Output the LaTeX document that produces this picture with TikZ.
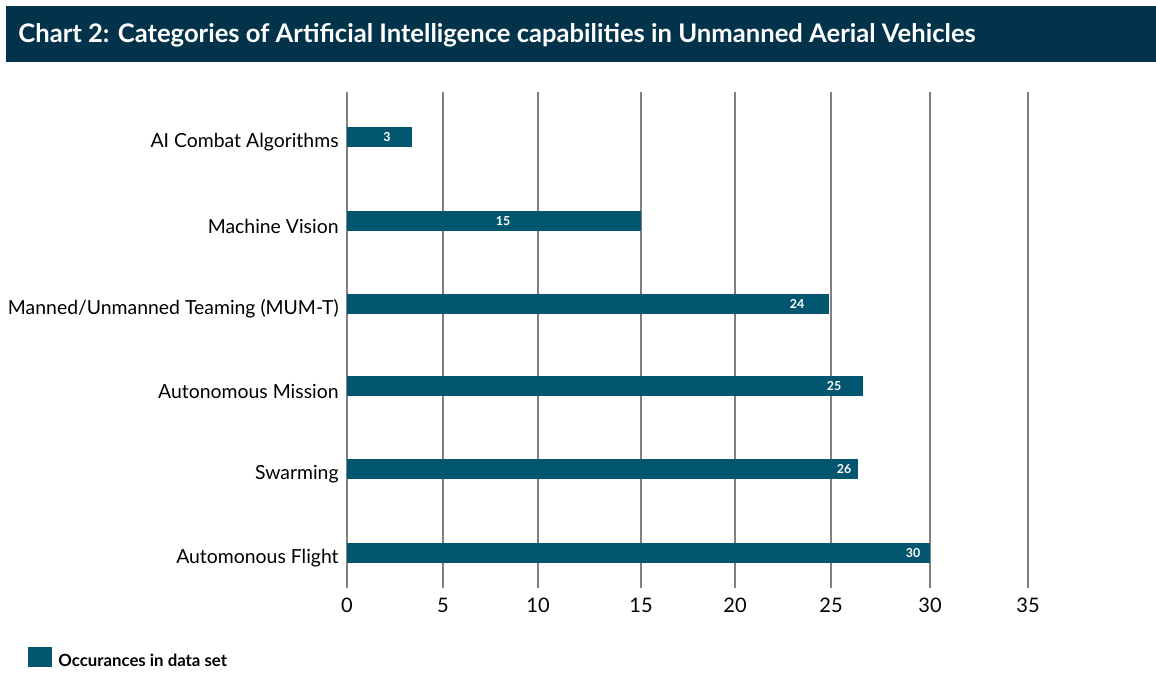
\documentclass[tikz,border=0pt]{standalone}
\usepackage{fontspec}
\setmainfont{Lato}
\usetikzlibrary{positioning}
\definecolor{headnavy}{HTML}{02334A}
\definecolor{barblue}{HTML}{03566F}

\begin{document}
\begin{tikzpicture}[
x=0.5pt,y=-0.5pt,
bar/.style={
	fill=barblue
},
gridline/.style={
	draw=black!50,
	line width=0.7pt
},
catlabel/.style={
	anchor=east,
	inner sep=0pt,
	font=\fontsize{9.7}{11}\selectfont
},
vallabel/.style={
	text=white,
	inner sep=0pt,
	font=\bfseries\fontsize{6.2}{7}\selectfont
},
ticklabel/.style={
	inner sep=0pt,
	font=\fontsize{10}{12}\selectfont
}
]
\useasboundingbox (0,0) rectangle (1156,677);

% heading
\fill[headnavy] (6,6) rectangle (1156,62);
\node[anchor=west,inner sep=0pt,text=white,font=\bfseries\fontsize{12.8}{15}\selectfont]
	(title) at (18,35) {Chart 2: Categories of Artificial Intelligence capabilities in Unmanned Aerial Vehicles};

% grid and axis
\foreach \x/\v in {347/0,443/5,538/10,641/15,735/20,831/25,930/30,1028/35}{
	\draw[gridline] (\x,92) -- (\x,588);
	\node[ticklabel] (tick\v) at (\x,605) {\v};
}

% bars
\foreach \i/\yc/\e/\lx/\v/\name in {1/137/412/387/3/{AI Combat Algorithms},
	2/221/641/503/15/{Machine Vision},
	3/304/829/797/24/{Manned/Unmanned Teaming (MUM-T)},
	4/386/863/834/25/{Autonomous Mission},
	5/469/858/844/26/{Swarming},
	6/553/930/913/30/{Automonous Flight}}{
	\fill[bar] (347,\yc-10) rectangle (\e,\yc+10);
	\node[vallabel] (val\i) at (\lx,\yc) {\v};
	\node[catlabel] (cat\i) at (339,\yc+5) {\name};
}

% legend
\fill[bar] (28,647) rectangle (52,667);
\node[anchor=west,inner sep=0pt,font=\bfseries\fontsize{8.4}{10}\selectfont]
	(legend) at (58,660) {Occurances in data set};
\end{tikzpicture}
\end{document}
